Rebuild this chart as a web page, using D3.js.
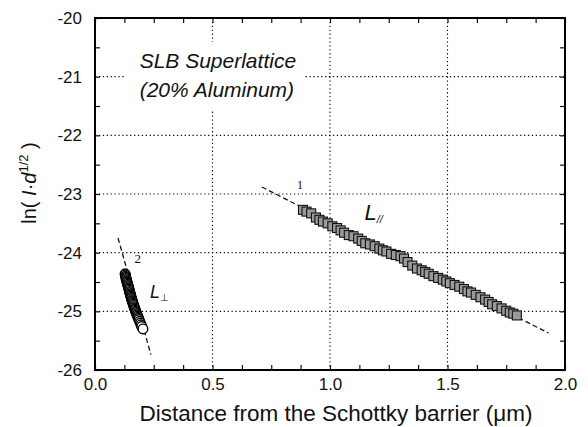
<!DOCTYPE html>
<html>
<head>
<meta charset="utf-8">
<script src="https://cdn.jsdelivr.net/npm/d3@7"></script>
<style>
body { margin: 0; background: #fff; }
text { font-family: "Liberation Sans", Arial, Helvetica, sans-serif; fill: #111; }
</style>
</head>
<body>
<svg id="chart" width="588" height="427"></svg>
<script>
// values
var xTicks = [0.0, 0.5, 1.0, 1.5, 2.0];
var yTicks = [-26, -25, -24, -23, -22, -21, -20];

var parX = [0.885, 0.90, 0.92, 0.94, 0.955, 0.97, 0.99, 1.01, 1.03, 1.045, 1.06, 1.08, 1.10, 1.12, 1.135, 1.15, 1.17, 1.19, 1.21, 1.225, 1.24, 1.26, 1.28, 1.30, 1.315, 1.33, 1.35, 1.37, 1.39, 1.405, 1.42, 1.44, 1.46, 1.48, 1.495, 1.51, 1.53, 1.55, 1.57, 1.585, 1.60, 1.62, 1.64, 1.66, 1.675, 1.69, 1.71, 1.73, 1.75, 1.765, 1.78, 1.795];
var parY = [-23.27, -23.30, -23.33, -23.40, -23.44, -23.47, -23.50, -23.55, -23.58, -23.62, -23.66, -23.70, -23.72, -23.76, -23.80, -23.84, -23.86, -23.89, -23.93, -23.96, -23.98, -24.02, -24.04, -24.06, -24.10, -24.16, -24.22, -24.27, -24.30, -24.33, -24.36, -24.40, -24.43, -24.46, -24.49, -24.52, -24.55, -24.58, -24.62, -24.66, -24.68, -24.72, -24.76, -24.80, -24.84, -24.88, -24.91, -24.95, -24.99, -25.02, -25.04, -25.07];

var perpX = [0.128, 0.129, 0.130, 0.131, 0.132, 0.134, 0.135, 0.136, 0.138, 0.139, 0.140, 0.142, 0.143, 0.144, 0.146, 0.147, 0.148, 0.150, 0.151, 0.152, 0.154, 0.155, 0.157, 0.158, 0.160, 0.161, 0.163, 0.165, 0.166, 0.168, 0.170, 0.171, 0.173, 0.175, 0.177, 0.179, 0.181, 0.183, 0.185, 0.187, 0.190, 0.193, 0.196, 0.199, 0.204];
var perpY = [-24.36, -24.38, -24.40, -24.42, -24.44, -24.46, -24.48, -24.50, -24.52, -24.54, -24.56, -24.58, -24.60, -24.62, -24.64, -24.66, -24.68, -24.70, -24.72, -24.74, -24.76, -24.78, -24.80, -24.82, -24.84, -24.86, -24.88, -24.90, -24.92, -24.94, -24.96, -24.98, -25.00, -25.02, -25.04, -25.06, -25.08, -25.10, -25.12, -25.14, -25.17, -25.20, -25.23, -25.26, -25.30];

var fitPar = [[0.71, -22.88], [1.93, -25.37]];
var fitPerp = [[0.098, -23.75], [0.238, -25.74]];

var width = 588, height = 427;
var margin = {left: 95, right: 23, top: 18, bottom: 57};

var svg = d3.select("#chart");

var x = d3.scaleLinear().domain([0, 2]).range([margin.left, width - margin.right]);
var y = d3.scaleLinear().domain([-26, -20]).range([height - margin.bottom, margin.top]);

// grid
var grid = svg.append("g").attr("stroke", "#111").attr("stroke-width", 1.1).attr("stroke-dasharray", "1.3,2.6");
grid.selectAll("line.gx").data([0.5, 1.0, 1.5]).enter().append("line")
    .attr("x1", d => x(d)).attr("x2", d => x(d)).attr("y1", y(-20)).attr("y2", y(-26));
grid.selectAll("line.gy").data([-25, -24, -23, -22, -21]).enter().append("line")
    .attr("x1", x(0)).attr("x2", x(2)).attr("y1", d => y(d)).attr("y2", d => y(d));

// fit lines
var line = d3.line().x(d => x(d[0])).y(d => y(d[1]));
svg.append("path").datum(fitPar).attr("d", line)
    .attr("fill", "none").attr("stroke", "#111").attr("stroke-width", 1.3).attr("stroke-dasharray", "5,3");
svg.append("path").datum(fitPerp).attr("d", line)
    .attr("fill", "none").attr("stroke", "#111").attr("stroke-width", 1.3).attr("stroke-dasharray", "5,3");

// squares
var sq = 9;
svg.append("g").selectAll("rect").data(d3.range(parX.length)).enter().append("rect")
    .attr("x", i => x(parX[i]) - sq / 2).attr("y", i => y(parY[i]) - sq / 2)
    .attr("width", sq).attr("height", sq)
    .attr("fill", "#9a9a9a").attr("stroke", "#111").attr("stroke-width", 1.1);

// circles
svg.append("g").selectAll("circle").data(d3.range(perpX.length)).enter().append("circle")
    .attr("cx", i => x(perpX[i])).attr("cy", i => y(perpY[i])).attr("r", 4.8)
    .attr("fill", "#fff").attr("stroke", "#000").attr("stroke-width", 1.4);

// text box hides part of the grid
svg.append("rect").attr("x", 125).attr("y", 42).attr("width", 178).attr("height", 68).attr("fill", "#fff");
svg.append("text").attr("x", x(0.19)).attr("y", y(-20.85))
    .attr("font-size", 21).attr("font-style", "italic").text("SLB Superlattice");
svg.append("text").attr("x", x(0.19)).attr("y", y(-21.34))
    .attr("font-size", 21).attr("font-style", "italic").text("(20% Aluminum)");

// axes with inward ticks on all sides
var xMinor = d3.range(0, 2.0001, 0.125);
var yMinor = d3.range(-26, -19.999, 0.5);

svg.append("g").attr("transform", "translate(0," + y(-26) + ")")
    .call(d3.axisBottom(x).tickValues(xMinor).tickSizeInner(-5).tickSizeOuter(0).tickFormat(""));
var gx2 = svg.append("g").attr("transform", "translate(0," + y(-26) + ")")
    .call(d3.axisBottom(x).tickValues(xTicks).tickSize(0).tickPadding(5).tickFormat(d3.format(".1f")));
svg.append("g").attr("transform", "translate(0," + y(-20) + ")")
    .call(d3.axisTop(x).tickValues(xMinor).tickSizeInner(-5).tickSizeOuter(0).tickFormat(""));
svg.append("g").attr("transform", "translate(" + x(0) + ",0)")
    .call(d3.axisLeft(y).tickValues(yMinor).tickSizeInner(-5).tickSizeOuter(0).tickFormat(""));
svg.append("g").attr("transform", "translate(" + x(0) + ",0)")
    .call(d3.axisLeft(y).tickValues(yTicks).tickSize(0).tickPadding(13).tickFormat(d => String(d)));
svg.append("g").attr("transform", "translate(" + x(2) + ",0)")
    .call(d3.axisRight(y).tickValues(yMinor).tickSizeInner(-5).tickSizeOuter(0).tickFormat(""));

svg.selectAll(".domain").remove();
svg.selectAll(".tick line").attr("stroke", "#111").attr("stroke-width", 1.2);
svg.selectAll(".tick text").attr("font-size", 17).attr("fill", "#111")
    .style("font-family", "'Liberation Sans', Arial, sans-serif");
gx2.selectAll(".tick text").attr("dy", "0.9em");

// frame
svg.append("rect").attr("x", x(0)).attr("y", y(-20)).attr("width", x(2) - x(0)).attr("height", y(-26) - y(-20))
    .attr("fill", "none").attr("stroke", "#000").attr("stroke-width", 2);

// annotations
svg.append("text").attr("x", x(0.86)).attr("y", y(-22.92)).attr("font-size", 12).attr("fill", "#111")
    .style("font-family", "'Liberation Serif', serif").text("1");
svg.append("text").attr("x", x(0.168)).attr("y", y(-24.17)).attr("font-size", 13).attr("fill", "#111")
    .style("font-family", "'Liberation Serif', serif").text("2");

var lpar = svg.append("text").attr("x", x(1.147)).attr("y", y(-23.44)).attr("font-size", 22).attr("font-style", "italic");
lpar.append("tspan").text("L");
lpar.append("tspan").attr("font-size", 11).attr("dy", 3).text("//");

var lperp = svg.append("text").attr("x", x(0.234)).attr("y", y(-24.77)).attr("font-size", 18).attr("font-style", "italic");
lperp.append("tspan").text("L");
lperp.append("tspan").attr("font-size", 10).attr("dy", 3).attr("font-style", "normal").text("⊥");

// axis titles
svg.append("text").attr("x", 336).attr("y", 421).attr("text-anchor", "middle").attr("font-size", 22.5)
    .text("Distance from the Schottky barrier (μm)");

var yt = svg.append("text").attr("transform", "translate(36,183) rotate(-90)")
    .attr("text-anchor", "middle").attr("font-size", 20);
yt.append("tspan").text("ln( ");
yt.append("tspan").attr("font-style", "italic").text("I");
yt.append("tspan").text("·");
yt.append("tspan").attr("font-style", "italic").text("d");
yt.append("tspan").attr("font-size", 13).attr("dy", -8).text("1/2");
yt.append("tspan").attr("dy", 8).text(" )");
</script>
</body>
</html>
